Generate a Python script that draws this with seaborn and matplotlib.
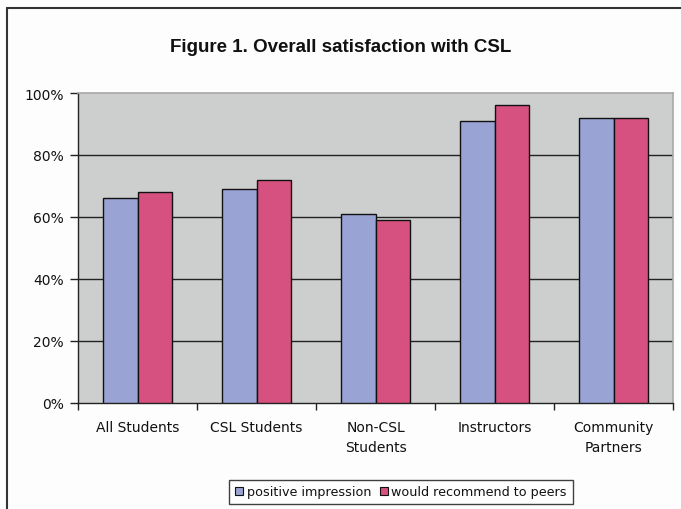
import matplotlib
matplotlib.use("Agg")
import matplotlib.pyplot as plt
from matplotlib.lines import Line2D
from matplotlib.patches import Patch
from matplotlib.ticker import FixedLocator, FuncFormatter
import pandas as pd
import seaborn as sns

# Survey results (share of respondents)
groups = ["All Students", "CSL Students", "Non-CSL\nStudents", "Instructors", "Community\nPartners"]
positive_impression = [0.66, 0.69, 0.61, 0.91, 0.92]
would_recommend = [0.68, 0.72, 0.59, 0.96, 0.92]
series_names = ["positive impression", "would recommend to peers"]
colors = ["#99A3D4", "#D65080"]

df = pd.DataFrame({
    "group": groups * 2,
    "value": positive_impression + would_recommend,
    "series": [series_names[0]] * len(groups) + [series_names[1]] * len(groups),
})

sns.set_style("white")
plt.rcParams["font.family"] = ["DejaVu Sans"]

W, H = 681, 510
fig = plt.figure(figsize=(W / 100, H / 100), dpi=100, facecolor="#FDFDFD")
ax = fig.add_axes([78 / W, 1 - 404 / H, (673 - 78) / W, (404 - 94) / H])
ax.set_facecolor("#CDCFCE")

sns.barplot(data=df, x="group", y="value", hue="series", order=groups,
            hue_order=series_names, palette=colors, width=0.58, gap=0,
            edgecolor="#111111", linewidth=1.0, saturation=1, ax=ax,
            legend=False, zorder=3)

ax.set_xlim(-0.5, len(groups) - 0.5)
ax.set_ylim(0, 1.0)
ax.set_xlabel("")
ax.set_ylabel("")

# Horizontal gridlines
ax.yaxis.set_major_locator(FixedLocator([0, 0.2, 0.4, 0.6, 0.8, 1.0]))
ax.yaxis.set_major_formatter(FuncFormatter(lambda v, _: f"{v * 100:.0f}%"))
for yv in [0.2, 0.4, 0.6, 0.8]:
    ax.axhline(yv, color="#222222", lw=1.0, zorder=1)

ax.tick_params(axis="y", which="major", direction="out", length=6, width=1,
               color="#222222", labelsize=10, labelcolor="#111111", pad=4, left=True)
ax.tick_params(axis="x", which="major", length=0, labelsize=10,
               labelcolor="#111111", pad=12)
for lbl in ax.get_xticklabels():
    lbl.set_linespacing(1.6)
ax.xaxis.set_minor_locator(FixedLocator([i - 0.5 for i in range(len(groups) + 1)]))
ax.tick_params(axis="x", which="minor", direction="out", length=5, width=1,
               color="#222222", bottom=True)

for side in ["top", "right"]:
    ax.spines[side].set_color("#A8A8A8")
    ax.spines[side].set_linewidth(1.2)
for side in ["left", "bottom"]:
    ax.spines[side].set_color("#222222")
    ax.spines[side].set_linewidth(1.0)

fig.text(341 / W, 1 - 48 / H, "Figure 1. Overall satisfaction with CSL",
         ha="center", va="center", fontsize=13.5, fontweight="bold",
         color="#111111", family=["Liberation Sans", "DejaVu Sans"])

handles = [Patch(facecolor=c, edgecolor="#111111", linewidth=0.8) for c in colors]
leg = fig.legend(handles, series_names, loc="center", ncol=2,
                 bbox_to_anchor=(401 / W, 1 - 493 / H), fontsize=9.2,
                 frameon=True, fancybox=False, edgecolor="#111111",
                 handlelength=0.6, handleheight=0.6, handletextpad=0.3,
                 columnspacing=0.7, borderpad=0.45, borderaxespad=0)
leg.get_frame().set_linewidth(1.0)
for t in leg.get_texts():
    t.set_color("#111111")

# Chart area border (top and left edges)
fig.add_artist(Line2D([7 / W, 1.0], [1 - 9 / H, 1 - 9 / H], transform=fig.transFigure,
                      color="#333333", lw=1.5))
fig.add_artist(Line2D([7 / W, 7 / W], [0.0, 1 - 9 / H], transform=fig.transFigure,
                      color="#333333", lw=1.5))

fig.savefig("out.png", dpi=100, facecolor=fig.get_facecolor())
